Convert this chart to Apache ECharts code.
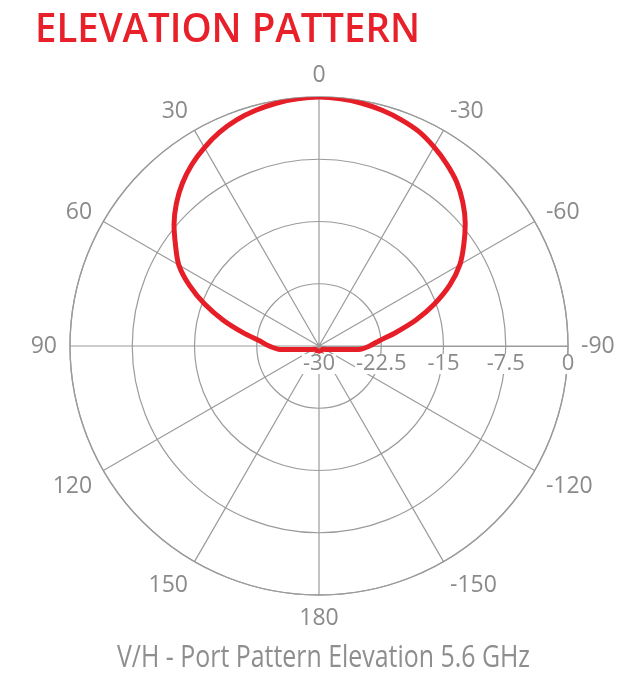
<!DOCTYPE html>
<html>
<head>
<meta charset="utf-8">
<script src="https://cdn.jsdelivr.net/npm/echarts@6/dist/echarts.min.js"></script>
<style>
html,body{margin:0;padding:0;background:#fff;}
#chart{width:639px;height:679px;}
</style>
</head>
<body>
<div id="chart"></div>
<script>
// ---- data ----
var titleText = 'ELEVATION PATTERN';
var subtitleText = 'V/H - Port Pattern Elevation 5.6 GHz';
// elevation angle in degrees (positive = left side of the plot)
var angleDeg = [0, 5, 10, 15, 20, 25, 30, 35, 40, 45, 50, 55, 60, 65, 70, 75, 80, 85, 90, 95, 100, 105, 110, 115, 120, 130, 140, 150, 160, 170, 180,
                -5, -10, -15, -20, -25, -30, -35, -40, -45, -50, -55, -60, -65, -70, -75, -80, -85, -90, -95, -100, -105, -110, -115, -120, -130, -140, -150, -160, -170];
// gain in dB
var gainDb = [0, -0.1, -0.3, -0.6, -1.0, -1.6, -2.4, -3.3, -4.4, -5.7, -7.2, -8.9, -10.5, -12.8, -15.4, -18.1, -20.7, -22.8, -24.0, -25.3, -27.6, -28.4, -28.8, -29.0, -29.2, -29.4, -29.4, -29.4, -29.4, -29.4, -29.4,
              -0.1, -0.3, -0.6, -1.0, -1.5, -2.3, -3.2, -4.2, -5.5, -7.0, -8.7, -10.4, -12.6, -15.2, -17.9, -20.6, -22.7, -23.9, -25.2, -27.5, -28.4, -28.8, -29.0, -29.2, -29.4, -29.4, -29.4, -29.4, -29.4];
var radiusTicks = [-30, -22.5, -15, -7.5, 0];
var angleTickStep = 30;

// ---- build polar series data ----
var pts = [];
for (var i = 0; i < angleDeg.length; i++) {
  var a = angleDeg[i];
  var p = a < -90 ? a + 360 : a;   // angle axis runs from -90 to 270
  pts.push([gainDb[i], p]);
}
pts.sort(function (u, v) { return u[1] - v[1]; });
pts.push([pts[0][0], pts[0][1] + 360]);

// ---- text measuring helper ----
var cv = document.createElement('canvas').getContext('2d');
function fitText(text, weight, family, capTop, baseline, targetWidth) {
  var fs = 40;
  cv.font = weight + ' ' + fs + 'px ' + family;
  cv.textBaseline = 'middle';
  var m = cv.measureText('E');
  var cap = m.actualBoundingBoxAscent + m.actualBoundingBoxDescent;
  fs = fs * (baseline - capTop) / cap;
  cv.font = weight + ' ' + fs + 'px ' + family;
  m = cv.measureText('E');
  var below = m.actualBoundingBoxDescent;
  var w = cv.measureText(text).width;
  return { fs: fs, yMid: baseline - below, sx: targetWidth / w };
}
var T = fitText(titleText, '600', '"Open Sans"', 12.3, 41.7, 385);
var S = fitText(subtitleText, 'normal', '"Open Sans"', 645, 667, 413);

var gridColor = '#9b9b9b';
var labelColor = '#8a8a8a';

// line-box heights per label ring position (fine-tunes label placement)
var angleLabelRich = {
  a0: { lineHeight: 18 },
  a30: { lineHeight: 15 },
  a60: { lineHeight: 5 },
  a90: { lineHeight: 17 },
  a120: { lineHeight: 19 },
  a150: { lineHeight: 26 },
  a180: { lineHeight: 20 }
};

var chart = echarts.init(document.getElementById('chart'), null, { renderer: 'canvas' });
chart.setOption({
  backgroundColor: '#ffffff',
  animation: false,
  polar: { center: [319, 346], radius: 249 },
  angleAxis: {
    type: 'value',
    min: -90,
    max: 270,
    interval: angleTickStep,
    startAngle: 0,
    clockwise: false,
    z: 1,
    axisLine: { show: true, lineStyle: { color: gridColor, width: 1.3 } },
    axisTick: { show: false },
    splitLine: { show: true, lineStyle: { color: gridColor, width: 1.2 } },
    axisLabel: {
      margin: 13,
      fontSize: 23,
      fontFamily: '"Open Sans", sans-serif',
      color: labelColor,
      rich: angleLabelRich,
      formatter: function (v) {
        var d = v > 180 ? v - 360 : v;
        return '{a' + Math.abs(d) + '|' + d + '}';
      }
    }
  },
  radiusAxis: {
    type: 'value',
    min: radiusTicks[0],
    max: radiusTicks[radiusTicks.length - 1],
    interval: radiusTicks[1] - radiusTicks[0],
    z: 3,
    axisLine: { show: true, lineStyle: { color: gridColor, width: 1.2 } },
    axisTick: { show: false },
    splitLine: { show: true, lineStyle: { color: gridColor, width: 1.2 } },
    axisLabel: {
      margin: -8,
      verticalAlign: 'top',
      fontSize: 22,
      lineHeight: 20,
      padding: [0, 1, 0, 1],
      backgroundColor: '#ffffff',
      fontFamily: '"Open Sans", sans-serif',
      color: labelColor
    }
  },
  series: [{
    type: 'line',
    coordinateSystem: 'polar',
    data: pts,
    symbol: 'none',
    smooth: 0.3,
    lineStyle: { color: '#e61e27', width: 5 },
    z: 5
  }],
  graphic: [
    {
      type: 'text',
      x: 35, y: T.yMid,
      scaleX: T.sx,
      style: {
        text: titleText,
        font: '600 ' + T.fs + 'px "Open Sans"',
        fill: '#e8202a',
        align: 'left',
        verticalAlign: 'middle'
      }
    },
    {
      type: 'text',
      x: 117, y: S.yMid,
      scaleX: S.sx,
      style: {
        text: subtitleText,
        font: 'normal ' + S.fs + 'px "Open Sans"',
        fill: '#8e8e8e',
        align: 'left',
        verticalAlign: 'middle'
      }
    }
  ]
});
</script>
</body>
</html>
